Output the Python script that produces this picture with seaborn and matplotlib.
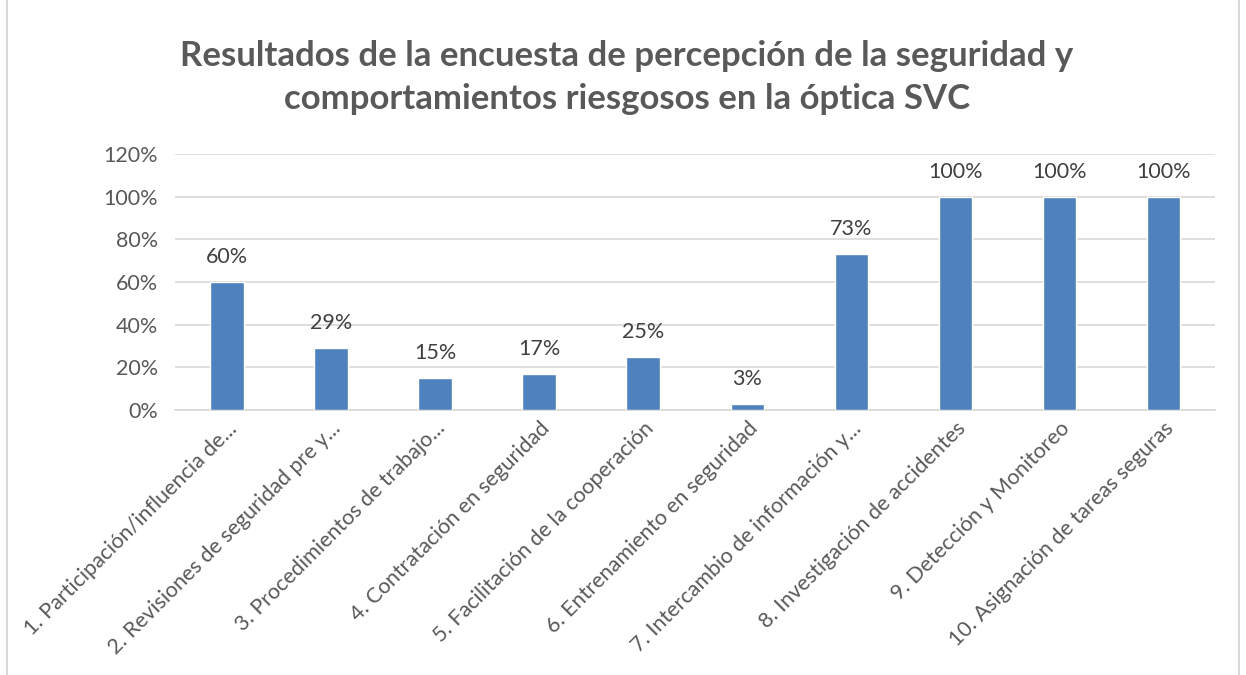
import numpy as np
import pandas as pd
import matplotlib
matplotlib.use("Agg")
import matplotlib.pyplot as plt
import seaborn as sns
from matplotlib.patches import Rectangle
from matplotlib.ticker import PercentFormatter

categories = [
    "1. Participación/influencia de...",
    "2. Revisiones de seguridad pre y...",
    "3. Procedimientos de trabajo...",
    "4. Contratación en seguridad",
    "5. Facilitación de la cooperación",
    "6. Entrenamiento en seguridad",
    "7. Intercambio de información y...",
    "8. Investigación de accidentes",
    "9. Detección y Monitoreo",
    "10. Asignación de tareas seguras",
]
values = [60, 29, 15, 17, 25, 3, 73, 100, 100, 100]
title = "Resultados de la encuesta de percepción de la seguridad y\ncomportamientos riesgosos en la óptica SVC"

BAR = "#4f81bd"
GRID = "#d9d9d9"
TXT = "#595959"


def main():
    sns.set_theme(style="white")
    plt.rcParams["font.family"] = ["Lato", "DejaVu Sans"]

    df = pd.DataFrame({"cat": categories, "val": values})

    fig = plt.figure(figsize=(12.46, 6.75), dpi=100)
    ax = fig.add_axes([0.1404, 0.3926, 0.835, 0.3793])

    sns.barplot(data=df, x="cat", y="val", color=BAR, width=0.32,
                saturation=1, ax=ax, zorder=3)

    ax.set_ylim(0, 120)
    ax.set_xlim(-0.5, len(categories) - 0.5)
    ax.set_yticks(np.arange(0, 121, 20))
    ax.yaxis.set_major_formatter(PercentFormatter(decimals=0))
    ax.grid(axis="y", color=GRID, linewidth=1.2, zorder=0)
    for s in ["top", "right", "left"]:
        ax.spines[s].set_visible(False)
    ax.spines["bottom"].set_color(GRID)
    ax.spines["bottom"].set_linewidth(1.2)
    ax.set_xlabel("")
    ax.set_ylabel("")
    ax.tick_params(axis="y", length=0, pad=12, labelsize=15.5, labelcolor=TXT)
    ax.tick_params(axis="x", length=0, pad=6, labelsize=15.5, labelcolor=TXT)
    ax.set_xticks(range(len(categories)))
    ax.set_xticklabels(categories, rotation=45, ha="right", rotation_mode="anchor")

    # data labels
    for i, v in enumerate(values):
        ax.annotate(f"{v}%", (i, v), xytext=(0, 18), textcoords="offset points",
                    ha="center", va="center", fontsize=15.5, color="#404040")

    fig.text(0.503, 0.885, title, ha="center", va="center", fontsize=25,
             fontweight="bold", color=TXT, linespacing=1.4)

    fig.patches.append(Rectangle((0.006, -0.1), 0.988, 1.3, transform=fig.transFigure,
                                 fill=False, edgecolor=GRID, linewidth=1.5))

    fig.savefig("out.png", dpi=100)


if __name__ == "__main__":
    main()
